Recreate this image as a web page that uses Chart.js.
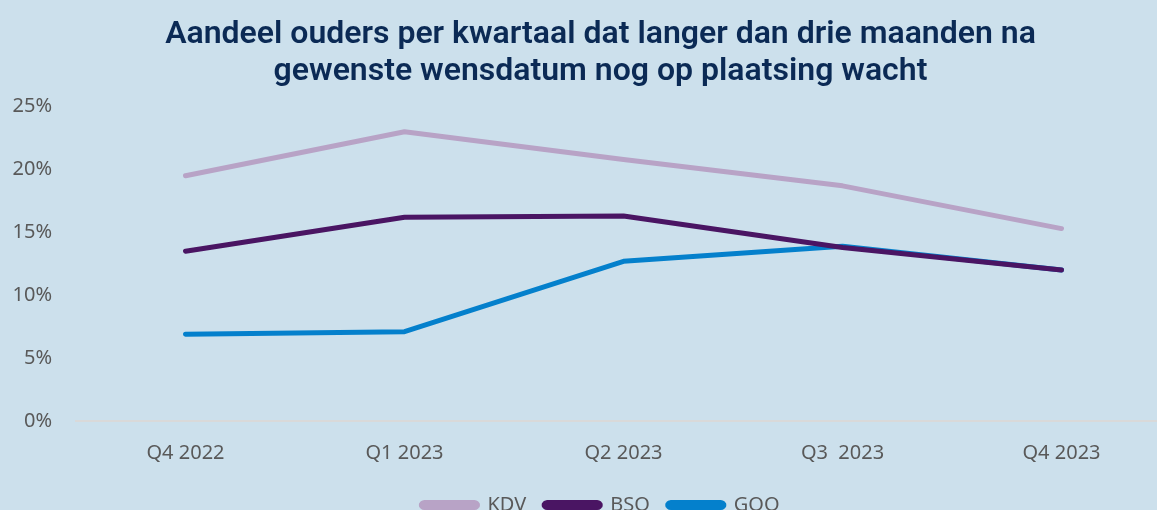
<!DOCTYPE html>
<html>
<head>
<meta charset="utf-8">
<script src="https://cdn.jsdelivr.net/npm/chart.js@4"></script>
<style>
    html, body { margin: 0; padding: 0; background: #cce0ec; overflow: hidden; }
    #wrap { width: 1190px; height: 525px; }
</style>
</head>
<body>
<div id="wrap"><canvas id="chart"></canvas></div>
<script>
// Kwartalen en aandelen (in %)
const kwartalen = ['Q4 2022', 'Q1 2023', 'Q2 2023', 'Q3  2023', 'Q4 2023'];
const kdv = [19.5, 23.0, 20.8, 18.7, 15.3];
const bso = [13.5, 16.2, 16.3, 13.8, 12.0];
const goo = [6.9, 7.1, 12.7, 13.9, 12.0];
const yTicks = [0, 5, 10, 15, 20, 25];

const tickColor = '#595959';
const tickFont = { family: 'Noto Sans', size: 20 };

function lineSet(label, data, color) {
    return {
        label: label,
        data: data,
        borderColor: color,
        backgroundColor: color,
        borderWidth: 5,
        borderCapStyle: 'round',
        borderJoinStyle: 'round',
        pointRadius: 0,
        tension: 0
    };
}

new Chart(document.getElementById('chart'), {
    type: 'line',
    data: {
        labels: kwartalen,
        datasets: [
            lineSet('KDV', kdv, '#b8a3c6'),
            lineSet('BSO', bso, '#4a1563'),
            lineSet('GOO', goo, '#0480cc')
        ]
    },
    options: {
        responsive: true,
        maintainAspectRatio: false,
        animation: false,
        layout: { padding: { left: 11, right: 0, bottom: 0 } },
        plugins: {
            title: {
                display: true,
                text: ['Aandeel ouders per kwartaal dat langer dan drie maanden na', 'gewenste wensdatum nog op plaatsing wacht'],
                color: '#0b2a55',
                font: { family: 'Roboto', size: 32, weight: '600', lineHeight: 1.15 },
                padding: { top: 17, bottom: 16 }
            },
            legend: {
                position: 'bottom',
                labels: {
                    color: tickColor,
                    font: tickFont,
                    boxWidth: 56,
                    boxHeight: 5,
                    useBorderRadius: true,
                    borderRadius: 3,
                    padding: 18
                }
            },
            tooltip: { enabled: false }
        },
        scales: {
            x: {
                offset: true,
                grid: { display: false },
                border: { display: true, color: '#d9d9d9', width: 2 },
                ticks: { color: tickColor, font: tickFont, padding: 12 }
            },
            y: {
                min: 0,
                max: 25,
                afterBuildTicks: axis => { axis.ticks = yTicks.map(v => ({ value: v })); },
                afterFit: s => { s.width = 65; },
                grid: { display: false },
                border: { display: false },
                ticks: {
                    color: tickColor,
                    font: tickFont,
                    padding: 16,
                    callback: v => v + '%'
                }
            },
            // lege ruimte rechts, zodat titel en legenda goed gecentreerd staan
            spacer: {
                type: 'linear',
                position: 'right',
                grid: { display: false },
                border: { display: false },
                ticks: { display: false },
                afterFit: s => { s.width = 19; }
            }
        }
    }
});
</script>
</body>
</html>
